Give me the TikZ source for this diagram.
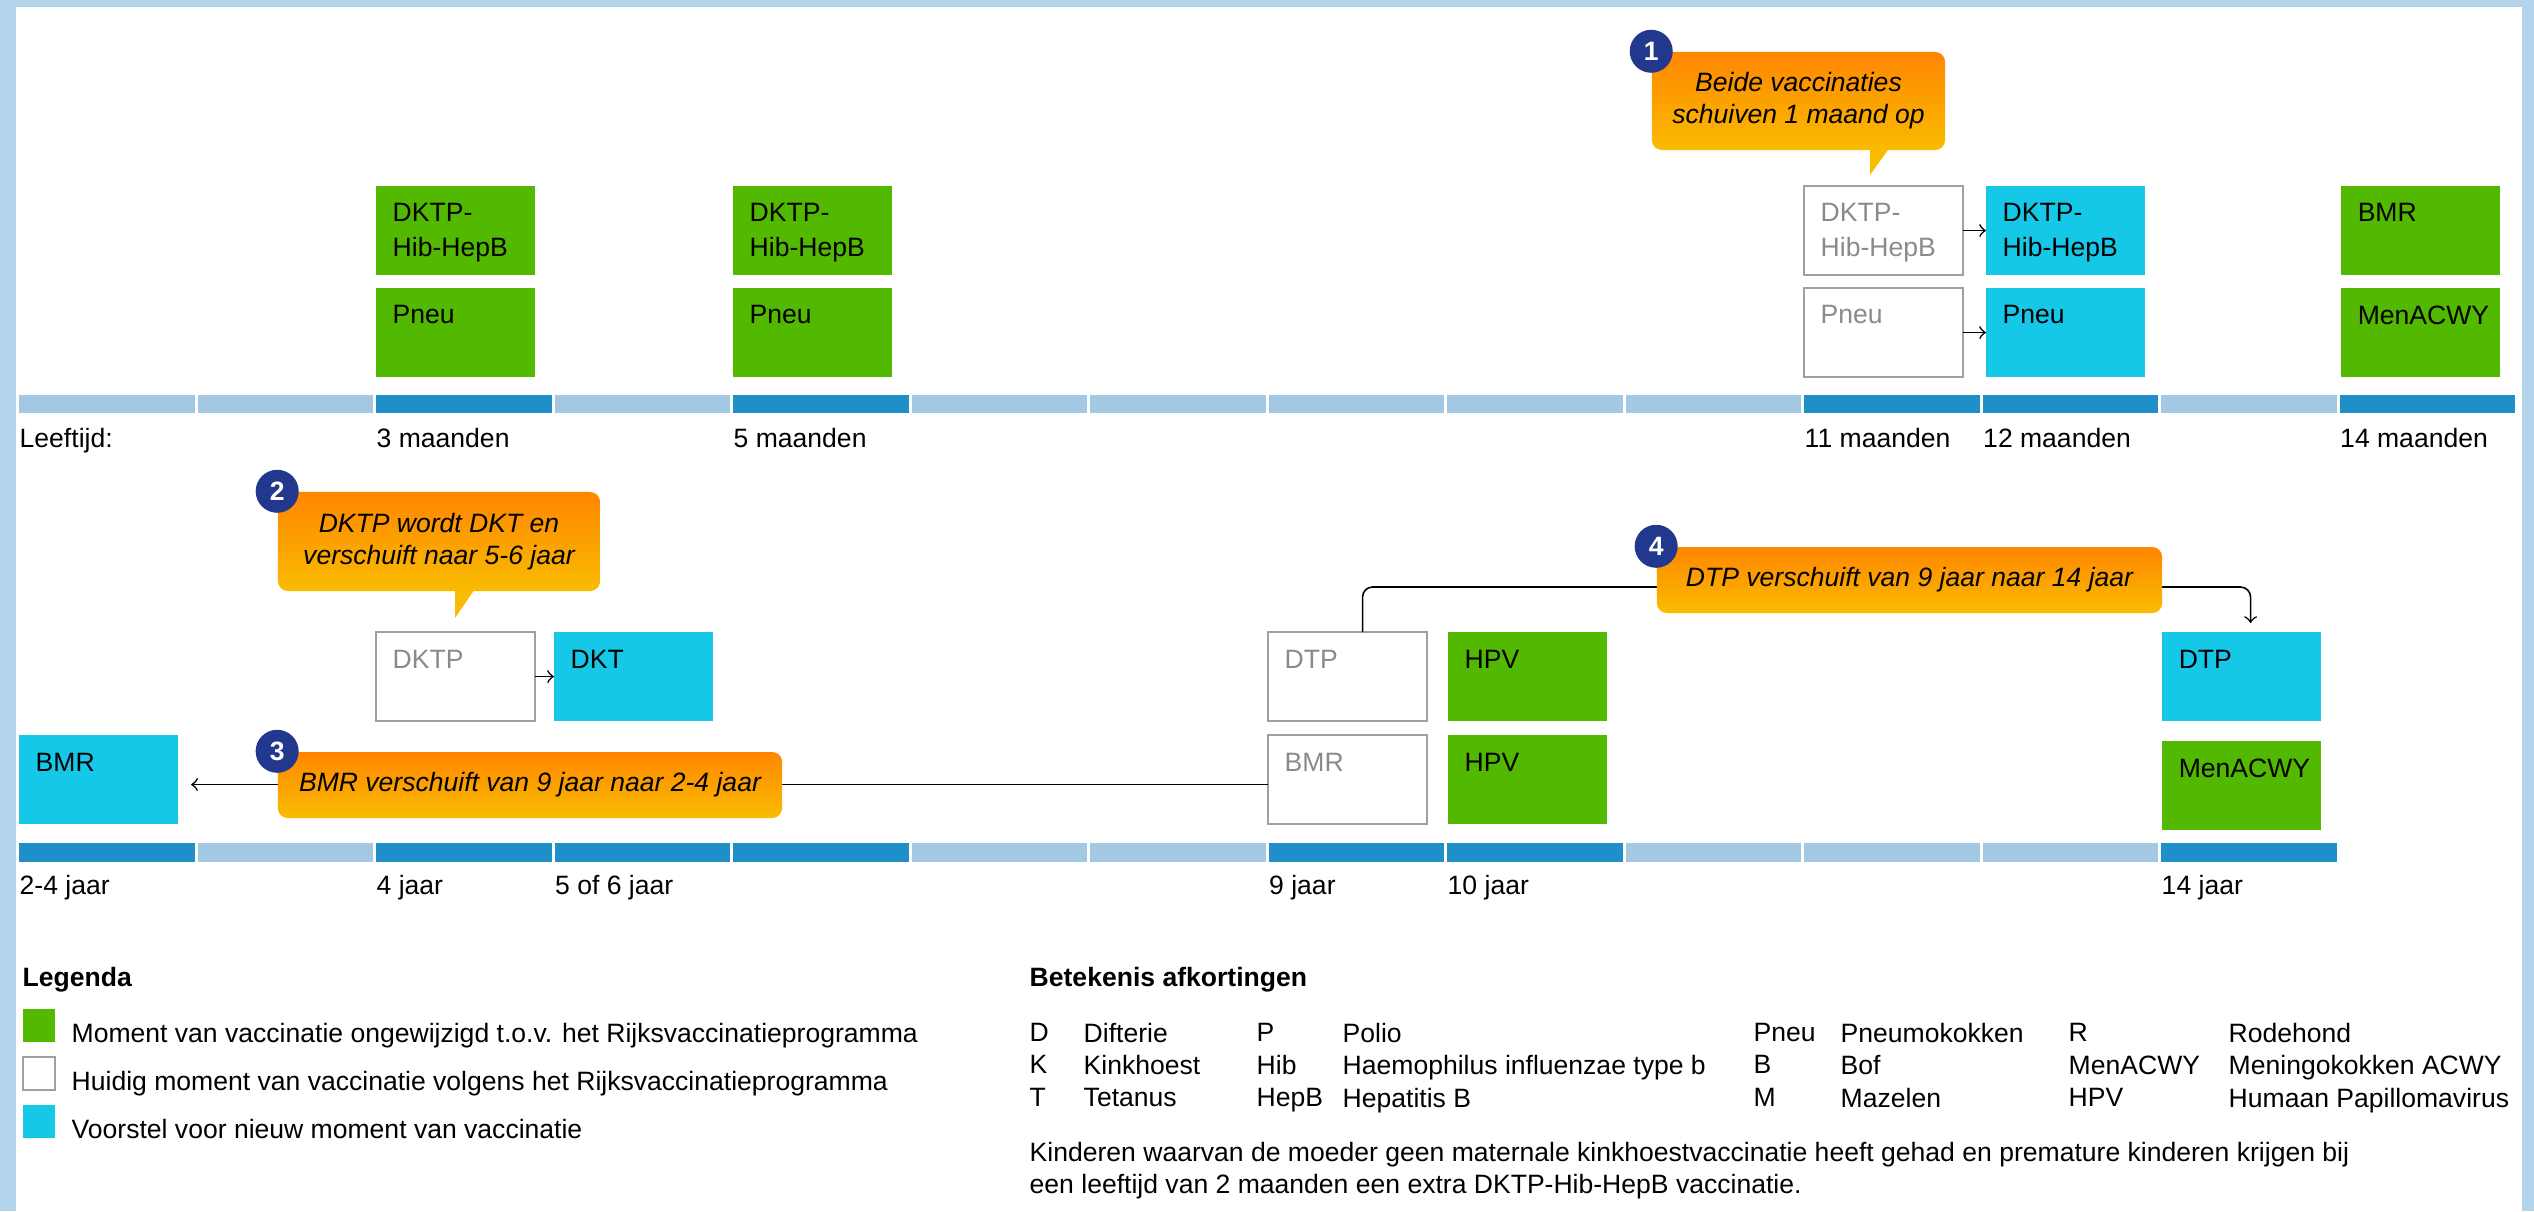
\documentclass[tikz,border=0pt]{standalone}
\usepackage{fontspec}
\setmainfont{Liberation Sans}
\usetikzlibrary{calc}

\definecolor{frameblue}{HTML}{B3D4EA}
\definecolor{barlight}{HTML}{A2C8E4}
\definecolor{bardark}{HTML}{1E8FC8}
\definecolor{samegreen}{HTML}{52B800}
\definecolor{newcyan}{HTML}{16C8E8}
\definecolor{oldgray}{HTML}{A0A0A0}
\definecolor{oldtext}{HTML}{8A8A8A}
\definecolor{calltop}{HTML}{FF8600}
\definecolor{callbot}{HTML}{F9BC00}
\definecolor{badgeblue}{HTML}{22388E}

\tikzset{every node/.style={font=\fontsize{7.55}{9.7}\selectfont}}

\begin{document}
\begin{tikzpicture}[x=0.01cm, y=-0.01cm,
  vbox/.style={anchor=north west, minimum width=1.59cm, minimum height=0.89cm, inner sep=0pt, outer sep=0pt},
  same/.style={vbox, fill=samegreen},
  new/.style={vbox, fill=newcyan},
  old/.style={vbox, draw=oldgray, line width=0.6pt, fill=white},
  txt/.style={anchor=north west, inner sep=0pt, xshift=0.16cm, yshift=-0.17cm, align=left},
  oldtxt/.style={txt, text=oldtext},
  lbl/.style={anchor=north west, inner sep=0pt},
  swatch/.style={anchor=north west, minimum width=0.32cm, minimum height=0.33cm, inner sep=0pt},
  arr/.style={->, line width=0.45pt},
  callout/.style={rounded corners=0.1cm, top color=calltop, bottom color=callbot, inner sep=0pt, align=center, font=\fontsize{7.55}{9.1}\selectfont\itshape},
  badge/.style={circle, fill=badgeblue, text=white, minimum size=0.43cm, inner sep=0pt, font=\fontsize{7.55}{9}\selectfont\bfseries}]

\useasboundingbox (0,0) rectangle (2534,1211);

\fill[frameblue] (0,0) rectangle (2534,7);
\fill[frameblue] (0,0) rectangle (16,1211);
\fill[frameblue] (2522,0) rectangle (2534,1211);

% tijdlijnen
\foreach \i in {0,...,13}
  \fill[barlight] (19+\i*178.5,395) rectangle ++(175.5,18);
\foreach \i in {2,4,10,11,13}
  \fill[bardark] (19+\i*178.5,395) rectangle ++(175.5,18);
\foreach \i in {0,...,12}
  \fill[barlight] (19+\i*178.5,843) rectangle ++(175.5,19);
\foreach \i in {0,2,3,4,7,8,12}
  \fill[bardark] (19+\i*178.5,843) rectangle ++(175.5,19);

\node[lbl] (leeftijd) at (19,428) {Leeftijd:};
\foreach \i/\t in {2/3 maanden, 4/5 maanden, 10/11 maanden, 11/12 maanden, 13/14 maanden}
  \node[lbl] (m\i) at (19+\i*178.5,428) {\t};
\foreach \i/\t in {0/2-4 jaar, 2/4 jaar, 3/5 of 6 jaar, 7/9 jaar, 8/10 jaar, 12/14 jaar}
  \node[lbl] (j\i) at (19+\i*178.5,875) {\t};

% maanden
\node[same, label={[txt]north west:DKTP-\\Hib-HepB}] (dktp3) at (376,186) {};
\node[same, label={[txt]north west:Pneu}] (pneu3) at (376,288) {};
\node[same, label={[txt]north west:DKTP-\\Hib-HepB}] (dktp5) at (733,186) {};
\node[same, label={[txt]north west:Pneu}] (pneu5) at (733,288) {};
\node[old, label={[oldtxt]north west:DKTP-\\Hib-HepB}] (dktp11) at (1804,186) {};
\node[old, label={[oldtxt]north west:Pneu}] (pneu11) at (1804,288) {};
\node[new, label={[txt]north west:DKTP-\\Hib-HepB}] (dktp12) at (1986,186) {};
\node[new, label={[txt]north west:Pneu}] (pneu12) at (1986,288) {};
\node[same, label={[txt]north west:BMR}] (bmr14m) at (2341,186) {};
\node[same, label={[txt]north west:MenACWY}] (men14m) at (2341,288) {};

% jaren
\node[new, label={[txt]north west:BMR}] (bmr2) at (19,735) {};
\node[old, label={[oldtxt]north west:DKTP}] (dktp4) at (376,632) {};
\node[new, label={[txt]north west:DKT}] (dkt5) at (554,632) {};
\node[old, label={[oldtxt]north west:DTP}] (dtp9) at (1268,632) {};
\node[old, label={[oldtxt]north west:BMR}] (bmr9) at (1268,735) {};
\node[same, label={[txt]north west:HPV}] (hpv10a) at (1448,632) {};
\node[same, label={[txt]north west:HPV}] (hpv10b) at (1448,735) {};
\node[new, label={[txt]north west:DTP}] (dtp14) at (2162,632) {};
\node[same, label={[txt]north west:MenACWY}] (men14) at (2162,741) {};

\draw[arr] (dktp11.east) -- (dktp12.west);
\draw[arr] (pneu11.east) -- (pneu12.west);
\draw[arr] (dktp4.east) -- (dkt5.west);
\draw[arr] ($(bmr9.west)+(0,5)$) -- ($(bmr2.east)+(13,5)$);
\draw[arr, rounded corners=0.1cm] ($(dtp9.north)+(15,0)$) |- ($(dtp14.north)+(9,-45)$) -- ($(dtp14.north)+(9,-9)$);

% toelichting
\fill[callbot] (1870,140) -- (1870,175) -- (1895,140) -- cycle;
\node[callout, minimum width=2.93cm, minimum height=0.98cm] (c1) at (1798.5,101) {Beide vaccinaties\\schuiven 1 maand op};
\fill[callbot] (455,580) -- (455,618) -- (481,580) -- cycle;
\node[callout, minimum width=3.22cm, minimum height=0.99cm] (c2) at (439,541.5) {DKTP wordt DKT en\\verschuift naar 5-6 jaar};
\node[callout, minimum width=5.04cm, minimum height=0.66cm] (c3) at (530,785) {BMR verschuift van 9 jaar naar 2-4 jaar};
\node[callout, minimum width=5.05cm, minimum height=0.66cm] (c4) at (1909.5,580) {DTP verschuift van 9 jaar naar 14 jaar};
\node[badge] (b1) at (c1.north west) {1};
\node[badge] (b2) at (c2.north west) {2};
\node[badge] (b3) at (c3.north west) {3};
\node[badge] (b4) at (c4.north west) {4};

% legenda
\node[lbl, font=\fontsize{7.55}{9}\selectfont\bfseries] (legenda) at (22,967) {Legenda};
\node[swatch, fill=samegreen] (s1) at (22,1008) {};
\node[swatch, draw=oldgray, line width=0.6pt] (s2) at (22,1056) {};
\node[swatch, fill=newcyan] (s3) at (22,1104) {};
\node[lbl] (l1) at (71,1023) {Moment van vaccinatie ongewijzigd t.o.v. het Rijksvaccinatieprogramma};
\node[lbl] (l2) at (71,1071) {Huidig moment van vaccinatie volgens het Rijksvaccinatieprogramma};
\node[lbl] (l3) at (71,1119) {Voorstel voor nieuw moment van vaccinatie};

% afkortingen
\node[lbl, font=\fontsize{7.55}{9}\selectfont\bfseries] (afk) at (1029,967) {Betekenis afkortingen};
\foreach \y/\a/\b/\c/\d/\e/\f/\g/\h in {1023/D/Difterie/P/Polio/Pneu/Pneumokokken/R/Rodehond,
    1055/K/Kinkhoest/Hib/Haemophilus influenzae type b/B/Bof/MenACWY/Meningokokken ACWY,
    1088/T/Tetanus/HepB/Hepatitis B/M/Mazelen/HPV/Humaan Papillomavirus}{
  \node[lbl] (a1-\y) at (1029,\y) {\a};
  \node[lbl] (a2-\y) at (1083,\y) {\b};
  \node[lbl] (a3-\y) at (1256,\y) {\c};
  \node[lbl] (a4-\y) at (1342,\y) {\d};
  \node[lbl] (a5-\y) at (1753,\y) {\e};
  \node[lbl] (a6-\y) at (1840,\y) {\f};
  \node[lbl] (a7-\y) at (2068,\y) {\g};
  \node[lbl] (a8-\y) at (2228,\y) {\h};
}
\node[lbl, align=left, font=\fontsize{7.55}{9.1}\selectfont] (noot) at (1029,1142) {Kinderen waarvan de moeder geen maternale kinkhoestvaccinatie heeft gehad en premature kinderen krijgen bij\\een leeftijd van 2 maanden een extra DKTP-Hib-HepB vaccinatie.};

\end{tikzpicture}
\end{document}
